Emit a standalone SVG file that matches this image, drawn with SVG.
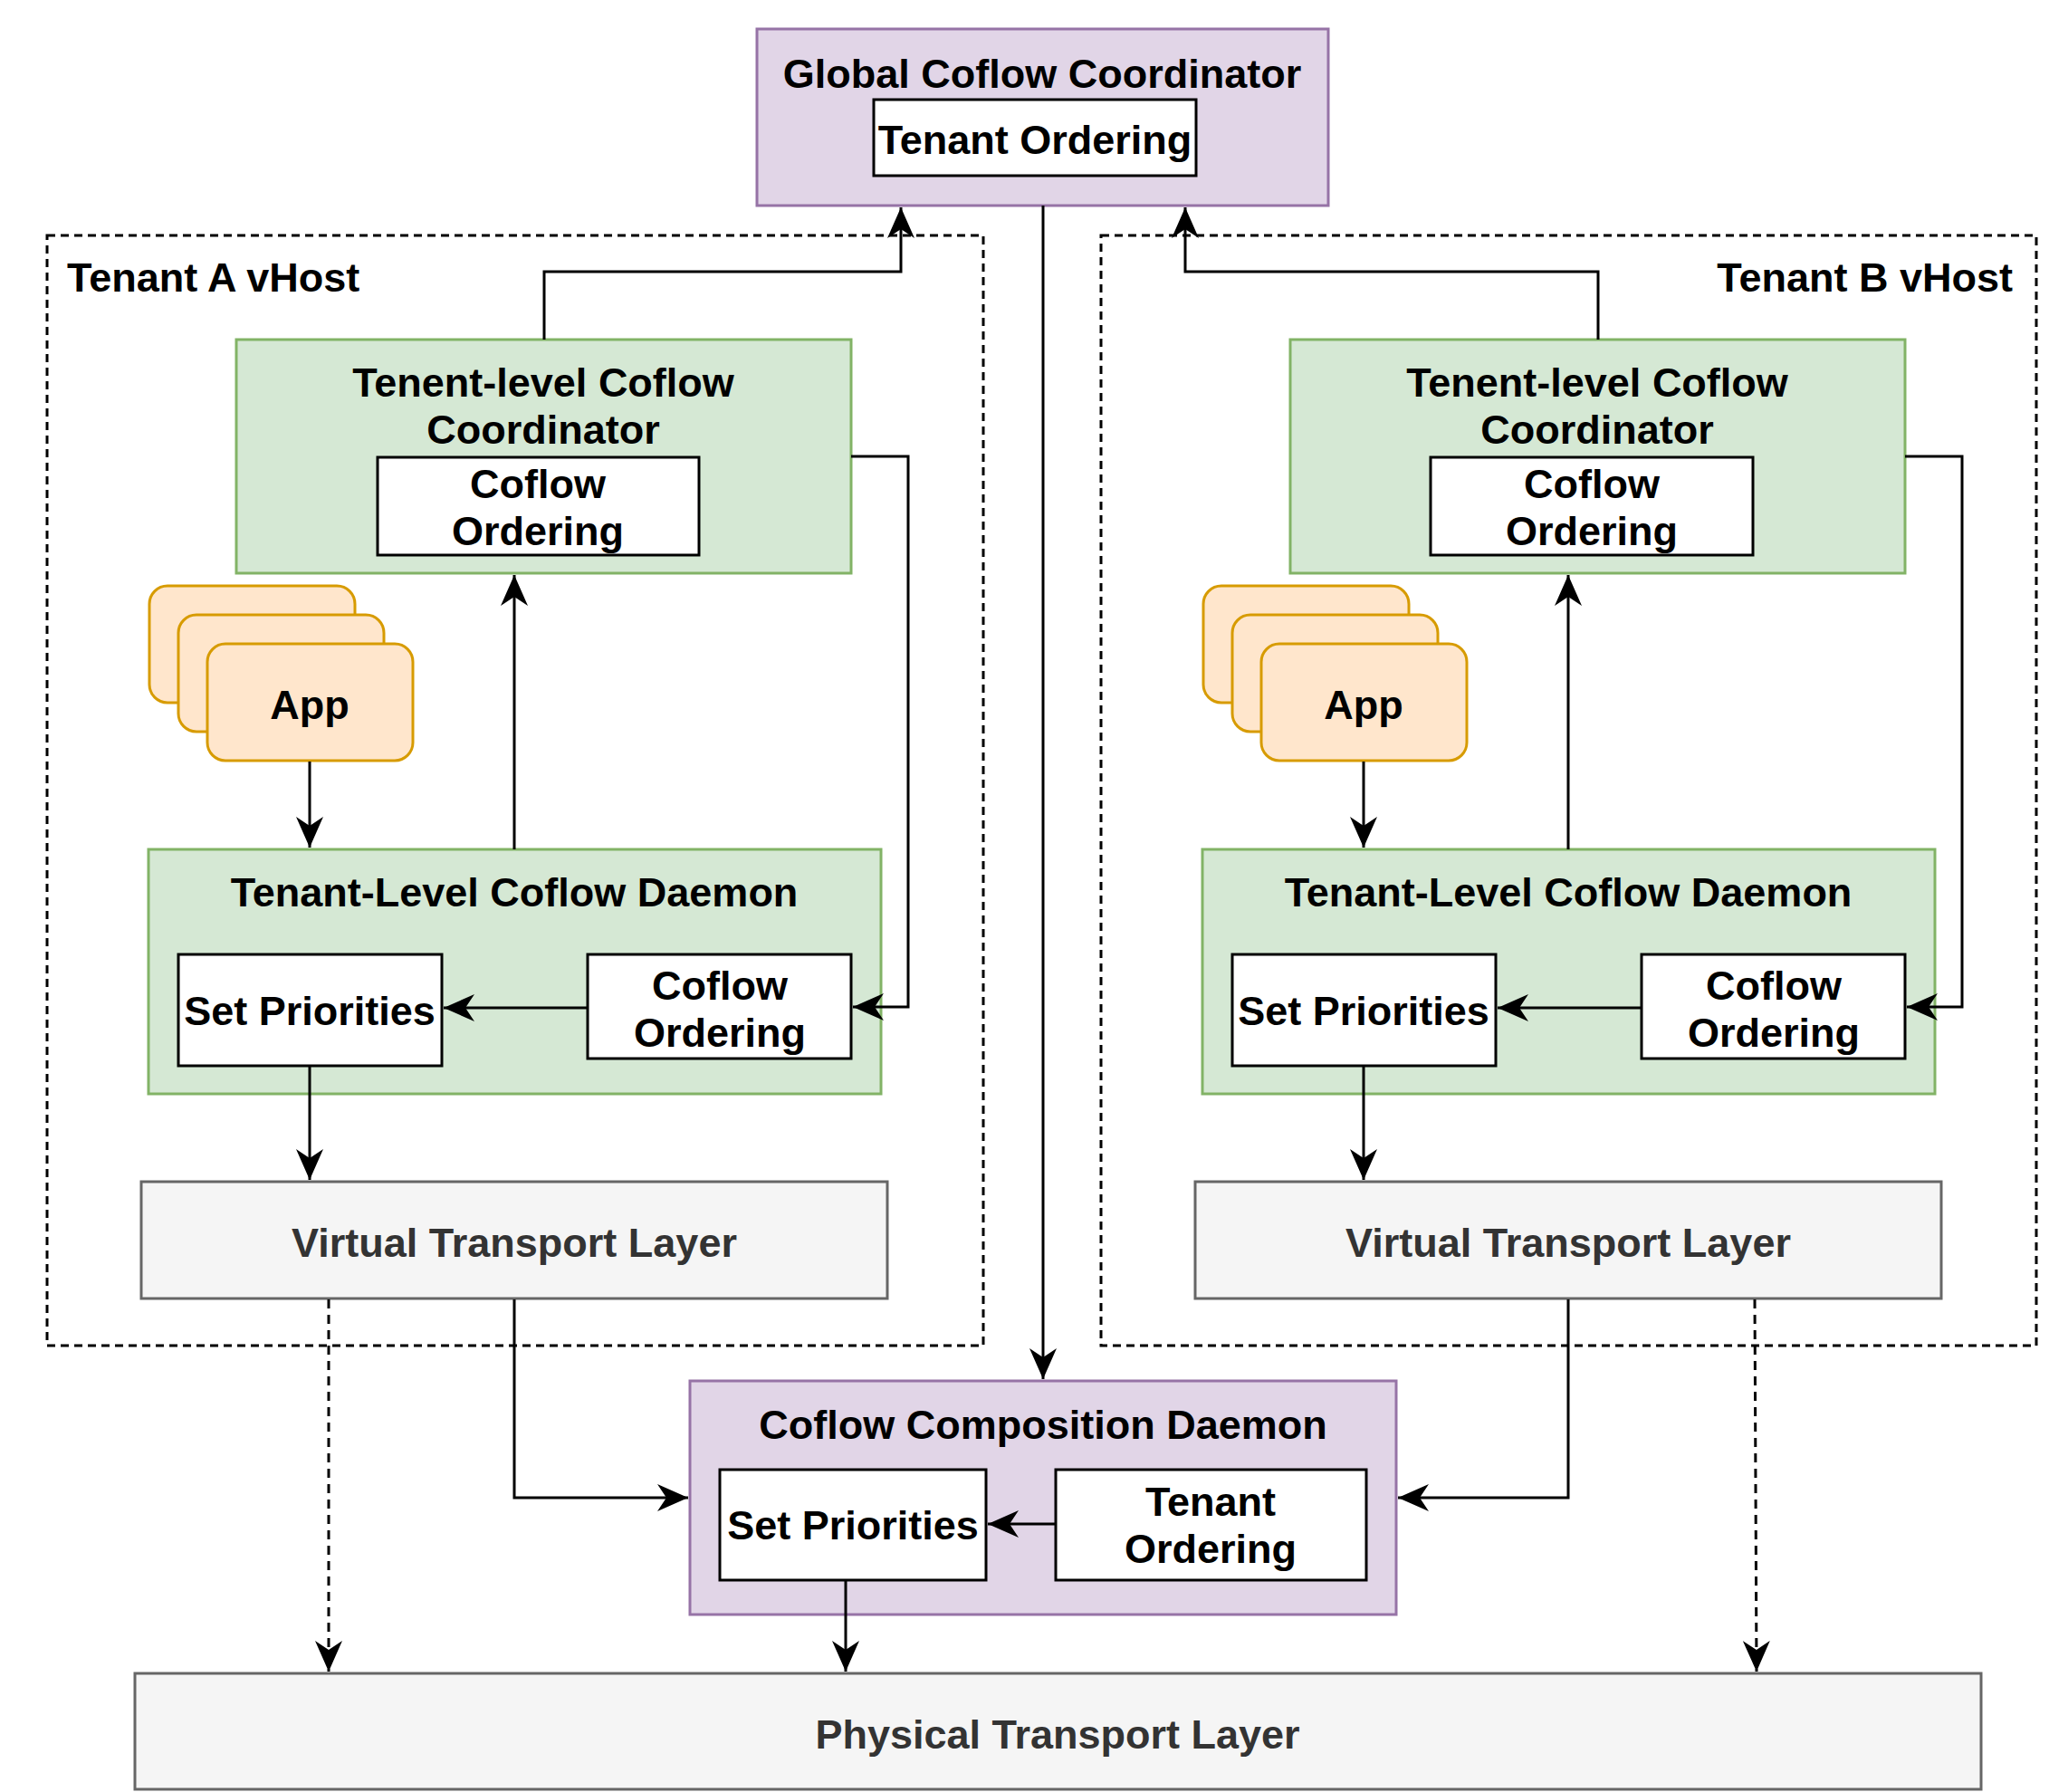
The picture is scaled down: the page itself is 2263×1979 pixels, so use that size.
<svg xmlns="http://www.w3.org/2000/svg" width="2263" height="1979" viewBox="0 0 2263 1979">
<style>
text{font-family:"Liberation Sans",Arial,sans-serif;font-weight:bold;font-size:45px;fill:#000;text-anchor:middle}
.purple{fill:#e1d5e7;stroke:#9673a6;stroke-width:3}
.green{fill:#d5e8d4;stroke:#82b366;stroke-width:3}
.orange{fill:#ffe6cc;stroke:#d79b00;stroke-width:3}
.gray{fill:#f5f5f5;stroke:#666666;stroke-width:3}
.white{fill:#ffffff;stroke:#000000;stroke-width:3}
.host{fill:none;stroke:#000;stroke-width:3;stroke-dasharray:9 6}
.gtext{fill:#333333}
.conn{fill:none;stroke:#000;stroke-width:3;marker-end:url(#arrow)}
.dash{stroke-dasharray:10 7}
</style>
<defs>
<marker id="arrow" markerUnits="userSpaceOnUse" viewBox="0 0 34 30" markerWidth="34" markerHeight="30" refX="34" refY="15" orient="auto">
<path d="M0,0 L34,15 L0,30 L10,15 Z" fill="#000"/>
</marker>
</defs>
<rect width="2263" height="1979" fill="#ffffff"/>

<g id="tenant-a-vhost">
<rect class="host" x="52" y="260" width="1034" height="1226"/>
<text x="74" y="322" style="text-anchor:start">Tenant A vHost</text>
</g>
<g id="tenant-b-vhost">
<rect class="host" x="1216" y="260" width="1033" height="1226"/>
<text x="2223" y="322" style="text-anchor:end">Tenant B vHost</text>
</g>

<g id="global-coordinator">
<rect class="purple" x="836" y="32" width="631" height="195"/>
<text x="1151" y="97">Global Coflow Coordinator</text>
<rect class="white" x="965" y="110" width="356" height="84"/>
<text x="1143" y="170">Tenant Ordering</text>
</g>

<g id="coordinator-a">
<rect class="green" x="261" y="375" width="679" height="258"/>
<text x="600" y="438">Tenent-level Coflow</text>
<text x="600" y="490">Coordinator</text>
<rect class="white" x="417" y="505" width="355" height="108"/>
<text x="594" y="550">Coflow</text>
<text x="594" y="602">Ordering</text>
</g>
<g id="coordinator-b">
<rect class="green" x="1425" y="375" width="679" height="258"/>
<text x="1764" y="438">Tenent-level Coflow</text>
<text x="1764" y="490">Coordinator</text>
<rect class="white" x="1580" y="505" width="356" height="108"/>
<text x="1758" y="550">Coflow</text>
<text x="1758" y="602">Ordering</text>
</g>

<g id="apps-a">
<rect class="orange" x="165" y="647" width="227" height="129" rx="20" ry="20"/>
<rect class="orange" x="197" y="679" width="227" height="129" rx="20" ry="20"/>
<rect class="orange" x="229" y="711" width="227" height="129" rx="20" ry="20"/>
<text x="342" y="794">App</text>
</g>
<g id="apps-b">
<rect class="orange" x="1329" y="647" width="227" height="129" rx="20" ry="20"/>
<rect class="orange" x="1361" y="679" width="227" height="129" rx="20" ry="20"/>
<rect class="orange" x="1393" y="711" width="227" height="129" rx="20" ry="20"/>
<text x="1506" y="794">App</text>
</g>

<g id="daemon-a">
<rect class="green" x="164" y="938" width="809" height="270"/>
<text x="568" y="1001">Tenant-Level Coflow Daemon</text>
<rect class="white" x="197" y="1054" width="291" height="123"/>
<text x="342" y="1132">Set Priorities</text>
<rect class="white" x="649" y="1054" width="291" height="115"/>
<text x="795" y="1104">Coflow</text>
<text x="795" y="1156">Ordering</text>
</g>
<g id="daemon-b">
<rect class="green" x="1328" y="938" width="809" height="270"/>
<text x="1732" y="1001">Tenant-Level Coflow Daemon</text>
<rect class="white" x="1361" y="1054" width="291" height="123"/>
<text x="1506" y="1132">Set Priorities</text>
<rect class="white" x="1813" y="1054" width="291" height="115"/>
<text x="1959" y="1104">Coflow</text>
<text x="1959" y="1156">Ordering</text>
</g>

<g id="vtl-a">
<rect class="gray" x="156" y="1305" width="824" height="129"/>
<text class="gtext" x="568" y="1388">Virtual Transport Layer</text>
</g>
<g id="vtl-b">
<rect class="gray" x="1320" y="1305" width="824" height="129"/>
<text class="gtext" x="1732" y="1388">Virtual Transport Layer</text>
</g>

<g id="composition-daemon">
<rect class="purple" x="762" y="1525" width="780" height="258"/>
<text x="1152" y="1589">Coflow Composition Daemon</text>
<rect class="white" x="795" y="1623" width="294" height="122"/>
<text x="942" y="1700">Set Priorities</text>
<rect class="white" x="1166" y="1623" width="343" height="122"/>
<text x="1337" y="1674">Tenant</text>
<text x="1337" y="1726">Ordering</text>
</g>

<g id="physical-transport">
<rect class="gray" x="149" y="1848" width="2039" height="128"/>
<text class="gtext" x="1168" y="1931">Physical Transport Layer</text>
</g>

<g id="connectors">
<path class="conn" d="M601,375 V300 H995 V229"/>
<path class="conn" d="M1765,375 V300 H1309 V229"/>
<path class="conn" d="M1152,227 V1523"/>
<path class="conn" d="M940,504 H1003 V1112 H942"/>
<path class="conn" d="M2104,504 H2167 V1112 H2106"/>
<path class="conn" d="M568,938 V635"/>
<path class="conn" d="M1732,938 V635"/>
<path class="conn" d="M342,841 V936"/>
<path class="conn" d="M1506,841 V936"/>
<path class="conn" d="M649,1113 H490"/>
<path class="conn" d="M1813,1113 H1654"/>
<path class="conn" d="M342,1177 V1303"/>
<path class="conn" d="M1506,1177 V1303"/>
<path class="conn" d="M568,1435 V1654 H760"/>
<path class="conn" d="M1732,1435 V1654 H1544"/>
<path class="conn dash" d="M363,1435 V1846"/>
<path class="conn dash" d="M1938,1435 L1940,1846"/>
<path class="conn" d="M1166,1683 H1091"/>
<path class="conn" d="M934,1746 V1846"/>
</g>
</svg>
